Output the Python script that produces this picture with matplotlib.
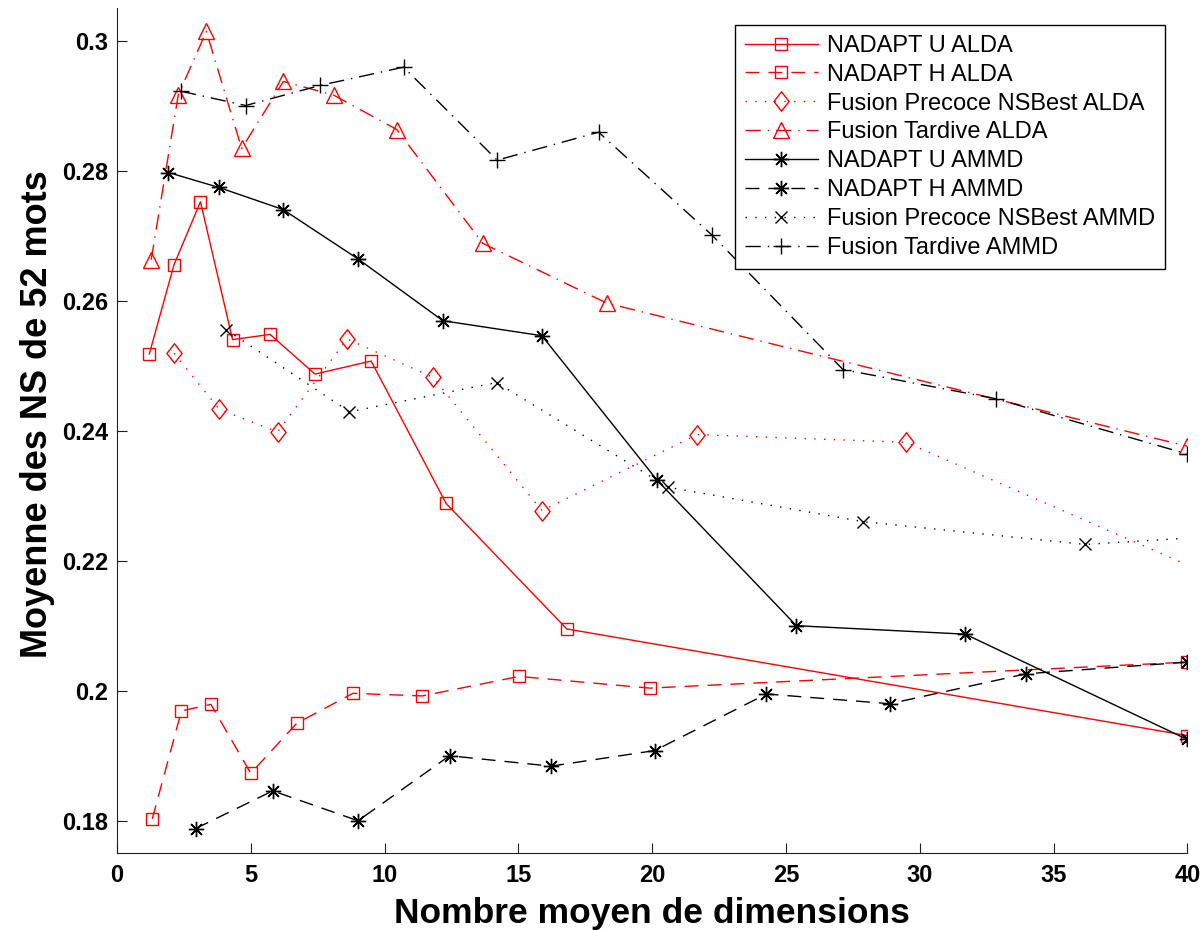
import numpy as np
import matplotlib
matplotlib.use("Agg")
import matplotlib.pyplot as plt
from matplotlib.path import Path
from matplotlib.ticker import FuncFormatter

plt.rcParams['font.family'] = ['Liberation Sans', 'DejaVu Sans']
plt.rcParams['lines.scale_dashes'] = False

# ---- data ----
u_alda_x = [1.21, 2.13, 3.12, 4.32, 5.72, 7.40, 9.50, 12.30, 16.81, 40.0]
u_alda_y = [0.2518, 0.2655, 0.2752, 0.2540, 0.2548, 0.2487, 0.2507, 0.2288, 0.2095, 0.1931]

h_alda_x = [1.32, 2.41, 3.51, 5.00, 6.72, 8.82, 11.41, 15.02, 19.91, 40.0]
h_alda_y = [0.1803, 0.1969, 0.1979, 0.1873, 0.1950, 0.1996, 0.1992, 0.2022, 0.2004, 0.2044]

pre_alda_x = [2.13, 3.82, 6.00, 8.60, 11.81, 15.88, 21.69, 29.49, 39.75]
pre_alda_y = [0.2519, 0.2433, 0.2398, 0.2541, 0.2482, 0.2277, 0.2394, 0.2382, 0.2198]

tard_alda_x = [1.28, 2.29, 3.34, 4.66, 6.22, 8.10, 10.46, 13.67, 18.31, 40.0]
tard_alda_y = [0.2663, 0.2916, 0.3014, 0.2834, 0.2937, 0.2916, 0.2863, 0.2688, 0.2596, 0.2376]

u_ammd_x = [1.92, 3.81, 6.21, 9.01, 12.18, 15.88, 20.18, 25.39, 31.70, 40.0]
u_ammd_y = [0.2797, 0.2774, 0.2740, 0.2664, 0.2569, 0.2546, 0.2324, 0.2100, 0.2087, 0.1925]

h_ammd_x = [2.94, 5.82, 9.01, 12.43, 16.22, 20.10, 24.27, 28.88, 33.97, 40.0]
h_ammd_y = [0.1788, 0.1846, 0.1800, 0.1900, 0.1884, 0.1908, 0.1995, 0.1980, 0.2026, 0.2044]

pre_ammd_x = [4.09, 8.69, 14.19, 20.60, 27.89, 36.18, 39.73]
pre_ammd_y = [0.2555, 0.2429, 0.2474, 0.2313, 0.2260, 0.2225, 0.2234]

tard_ammd_x = [2.39, 4.81, 7.60, 10.71, 14.21, 18.00, 22.23, 27.13, 32.85, 40.0]
tard_ammd_y = [0.2922, 0.2900, 0.2931, 0.2959, 0.2816, 0.2859, 0.2701, 0.2494, 0.2449, 0.2364]

labels = ['NADAPT U ALDA', 'NADAPT H ALDA', 'Fusion Precoce NSBest ALDA', 'Fusion Tardive ALDA',
          'NADAPT U AMMD', 'NADAPT H AMMD', 'Fusion Precoce NSBest AMMD', 'Fusion Tardive AMMD']

# line styles (in points, not scaled by width)
solid = '-'
dashed = (0, (10, 6.5))
dotted = (0, (1, 6))
dashdot = (0, (11, 5, 1, 5))

# MATLAB-like diamond (taller than wide)
diamond = Path([(0, 1), (0.78, 0), (0, -1), (-0.78, 0), (0, 1)],
               [Path.MOVETO, Path.LINETO, Path.LINETO, Path.LINETO, Path.CLOSEPOLY])
asterisk = (8, 2, 0)

fig = plt.figure(figsize=(12.02, 9.30), dpi=100)
ax = fig.add_axes([0.0973, 0.0825, 0.9905 - 0.0973 - 0.0027, 0.9914 - 0.0825])

red = '#ff0000'
blk = '#000000'
lw = 1.0

ax.plot(u_alda_x, u_alda_y, color=red, ls=solid, lw=lw, marker='s', ms=8.6,
        mfc='none', mec=red, mew=1.0, label=labels[0])
ax.plot(h_alda_x, h_alda_y, color=red, ls=dashed, lw=lw, marker='s', ms=8.6,
        mfc='none', mec=red, mew=1.0, label=labels[1])
ax.plot(pre_alda_x, pre_alda_y, color=red, ls=dotted, lw=lw, marker=diamond, ms=14,
        mfc='none', mec=red, mew=1.0, markevery=list(range(len(pre_alda_x) - 1)),
        label=labels[2])
ax.plot(tard_alda_x, tard_alda_y, color=red, ls=dashdot, lw=lw, marker='^', ms=12,
        mfc='none', mec=red, mew=1.0, label=labels[3])
ax.plot(u_ammd_x, u_ammd_y, color=blk, ls=solid, lw=lw, marker=asterisk, ms=11,
        mec=blk, mew=1.0, label=labels[4])
ax.plot(h_ammd_x, h_ammd_y, color=blk, ls=dashed, lw=lw, marker=asterisk, ms=11,
        mec=blk, mew=1.0, label=labels[5])
ax.plot(pre_ammd_x, pre_ammd_y, color=blk, ls=dotted, lw=lw, marker='x', ms=8,
        mec=blk, mew=1.0, markevery=list(range(len(pre_ammd_x) - 1)),
        label=labels[6])
ax.plot(tard_ammd_x, tard_ammd_y, color=blk, ls=dashdot, lw=lw, marker='+', ms=11,
        mec=blk, mew=1.0, label=labels[7])

ax.set_xlim(0, 40)
ax.set_ylim(0.175, 0.305)
ax.set_xticks(np.arange(0, 41, 5))
ax.set_yticks([0.18, 0.20, 0.22, 0.24, 0.26, 0.28, 0.30])
ax.yaxis.set_major_formatter(FuncFormatter(lambda v, p: '%g' % round(v, 4)))

for s in ['top', 'right']:
    ax.spines[s].set_visible(False)
for s in ['left', 'bottom']:
    ax.spines[s].set_linewidth(0.8)
    ax.spines[s].set_color('#202020')

ax.tick_params(axis='both', direction='in', length=7, width=0.8, color='#202020',
               labelsize=17)
ax.tick_params(axis='y', pad=6)
ax.tick_params(axis='x', pad=8)
for t in ax.get_xticklabels() + ax.get_yticklabels():
    t.set_fontweight('bold')

ax.set_xlabel('Nombre moyen de dimensions', fontsize=25.5, fontweight='bold')
ax.set_ylabel('Moyenne des NS de 52 mots', fontsize=26, fontweight='bold')
ax.xaxis.set_label_coords(0.5, -0.052)
ax.yaxis.set_label_coords(-0.058, 0.52)

leg = ax.legend(loc='upper right', bbox_to_anchor=(1165 / 1202, 1 - 25 / 930),
                bbox_transform=fig.transFigure, borderaxespad=0, fontsize=17,
                handlelength=3.1, handletextpad=0.38, labelspacing=0.29,
                borderpad=0.42, fancybox=False, framealpha=1, edgecolor='black')
leg.get_frame().set_linewidth(1.0)

fig.savefig('out.png', dpi=100)
